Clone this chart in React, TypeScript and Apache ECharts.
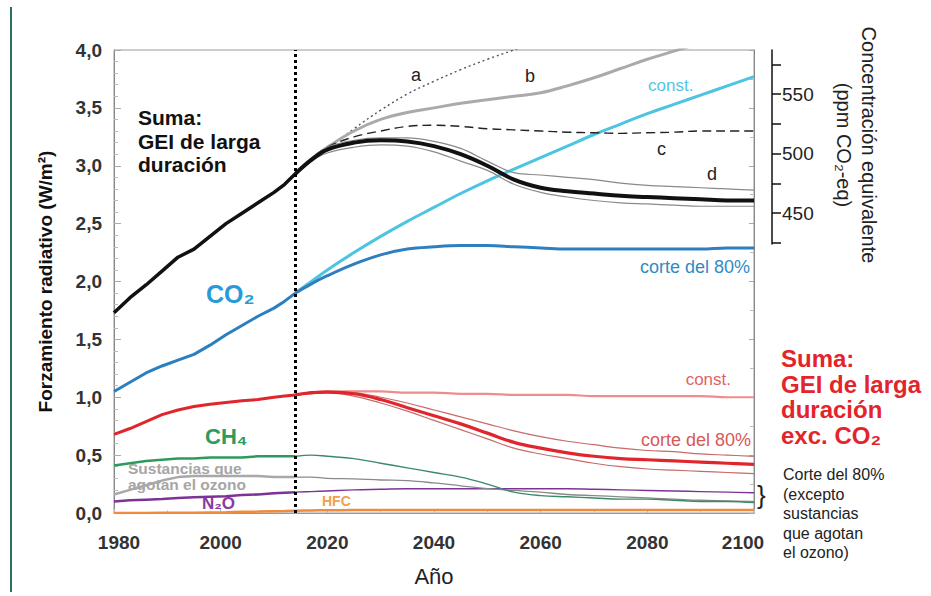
import React, { useEffect, useRef } from "react";
import * as echarts from "echarts";

// ---- data ----
const HIST_YEARS = [1980, 1983, 1986, 1989, 1992, 1995, 1998, 2001, 2004, 2007, 2010, 2012, 2014];
const FUT_YEARS = [2014, 2017, 2020, 2025, 2030, 2035, 2040, 2045, 2050, 2055, 2060, 2065, 2070, 2075, 2080, 2085, 2090, 2095, 2100];

const SUM_HIST = [1.73, 1.86, 1.97, 2.09, 2.21, 2.28, 2.39, 2.5, 2.59, 2.68, 2.77, 2.84, 2.93];
const CO2_HIST = [1.05, 1.13, 1.21, 1.27, 1.32, 1.37, 1.45, 1.54, 1.62, 1.7, 1.77, 1.83, 1.9];
const NONCO2_HIST = [0.68, 0.73, 0.79, 0.85, 0.89, 0.92, 0.94, 0.955, 0.97, 0.98, 1.0, 1.01, 1.02];
const CH4_HIST = [0.41, 0.43, 0.45, 0.46, 0.47, 0.47, 0.48, 0.48, 0.48, 0.49, 0.49, 0.49, 0.49];
const ODS_HIST = [0.16, 0.2, 0.24, 0.28, 0.31, 0.32, 0.32, 0.32, 0.32, 0.32, 0.31, 0.31, 0.31];
const N2O_HIST = [0.1, 0.11, 0.115, 0.12, 0.13, 0.135, 0.14, 0.145, 0.155, 0.16, 0.17, 0.175, 0.18];
const HFC_HIST = [0, 0, 0.001, 0.002, 0.002, 0.003, 0.005, 0.007, 0.01, 0.012, 0.015, 0.017, 0.02];

const SUM_A = [2.93, 3.04, 3.14, 3.32, 3.48, 3.62, 3.73, 3.83, 3.92, 4.0, 4.08, null, null, null, null, null, null, null, null];
const SUM_B = [2.93, 3.06, 3.16, 3.3, 3.4, 3.46, 3.5, 3.54, 3.57, 3.6, 3.63, 3.69, 3.76, 3.84, 3.92, 3.99, 4.06, null, null];
const SUM_C = [2.93, 3.06, 3.16, 3.25, 3.3, 3.34, 3.35, 3.34, 3.32, 3.31, 3.3, 3.29, 3.285, 3.28, 3.285, 3.29, 3.3, 3.3, 3.3];
const SUM_D = [2.93, 3.05, 3.14, 3.2, 3.22, 3.21, 3.17, 3.1, 3.0, 2.88, 2.81, 2.78, 2.76, 2.74, 2.73, 2.72, 2.71, 2.7, 2.7];
const SUM_D_HI = [2.93, 3.06, 3.16, 3.22, 3.24, 3.24, 3.21, 3.15, 3.04, 2.94, 2.92, 2.9, 2.88, 2.85, 2.83, 2.82, 2.81, 2.8, 2.79];
const SUM_D_LO = [2.93, 3.04, 3.11, 3.16, 3.18, 3.17, 3.12, 3.04, 2.96, 2.84, 2.77, 2.73, 2.7, 2.68, 2.67, 2.66, 2.65, 2.65, 2.65];

const CO2_CONST = [1.9, 2.0, 2.1, 2.25, 2.39, 2.52, 2.64, 2.76, 2.87, 2.97, 3.07, 3.17, 3.27, 3.36, 3.45, 3.53, 3.61, 3.69, 3.77];
const CO2_CUT = [1.9, 1.98, 2.05, 2.15, 2.23, 2.28, 2.3, 2.31, 2.31, 2.3, 2.29, 2.28, 2.28, 2.28, 2.28, 2.28, 2.28, 2.29, 2.29];

const NONCO2_CONST = [1.02, 1.04, 1.05, 1.05, 1.05, 1.04, 1.04, 1.03, 1.03, 1.02, 1.02, 1.02, 1.01, 1.01, 1.01, 1.01, 1.01, 1.0, 1.0];
const NONCO2_CUT = [1.02, 1.04, 1.045, 1.03, 0.98, 0.91, 0.84, 0.77, 0.69, 0.61, 0.56, 0.52, 0.49, 0.47, 0.46, 0.45, 0.44, 0.43, 0.42];
const NONCO2_CUT_HI = [1.02, 1.04, 1.05, 1.04, 1.0, 0.95, 0.89, 0.83, 0.77, 0.71, 0.66, 0.62, 0.59, 0.56, 0.54, 0.53, 0.51, 0.5, 0.49];
const NONCO2_CUT_LO = [1.02, 1.03, 1.04, 1.01, 0.95, 0.88, 0.8, 0.72, 0.64, 0.56, 0.51, 0.47, 0.43, 0.4, 0.38, 0.37, 0.36, 0.35, 0.34];

const CH4_CUT = [0.49, 0.5, 0.49, 0.47, 0.43, 0.39, 0.35, 0.31, 0.25, 0.18, 0.15, 0.14, 0.13, 0.12, 0.12, 0.11, 0.1, 0.1, 0.09];
const ODS_FUT = [0.31, 0.31, 0.3, 0.295, 0.285, 0.28, 0.26, 0.235, 0.21, 0.195, 0.18, 0.16, 0.15, 0.14, 0.13, 0.12, 0.11, 0.105, 0.1];
const N2O_CUT = [0.18, 0.185, 0.19, 0.2, 0.205, 0.21, 0.21, 0.21, 0.21, 0.21, 0.21, 0.21, 0.205, 0.2, 0.195, 0.19, 0.185, 0.18, 0.175];
const HFC_CUT = [0.02, 0.022, 0.024, 0.025, 0.025, 0.025, 0.025, 0.025, 0.025, 0.025, 0.025, 0.025, 0.025, 0.025, 0.025, 0.025, 0.025, 0.025, 0.025];

const PPM_TICKS = [425, 450, 475, 500, 525, 550, 575];
const PPM_LABELS = [450, 500, 550];
const SCENARIO_YEAR = 2014;

const pair = (xs: number[], ys: (number | null)[]) => xs.map((x, i) => [x, ys[i]]);

const FONT = "'Liberation Sans', Arial, sans-serif";

function line(name: string, xs: number[], ys: (number | null)[], color: string, width: number, extra: any = {}) {
  return {
    name,
    type: "line",
    data: pair(xs, ys),
    showSymbol: false,
    symbol: "none",
    clip: true,
    lineStyle: { color, width, ...(extra.lineStyle || {}) },
    smooth: extra.smooth ?? 0,
    z: extra.z ?? 2,
    ...(extra.markLine ? { markLine: extra.markLine } : {}),
  };
}

export default function App() {
  const ref = useRef<HTMLDivElement>(null);
  useEffect(() => {
    const chart = echarts.init(ref.current!, null, { renderer: "svg" });
    const S = 0.4;
    const xl = { fontSize: 19, fontWeight: "bold", color: "#333", fontFamily: FONT };
    const option: any = {
      animation: false,
      backgroundColor: "#ffffff",
      textStyle: { fontFamily: FONT },
      grid: [
        { left: 114, top: 50, width: 640, height: 463, show: true, borderColor: "#9a9a9a", borderWidth: 1 },
        { left: 700, top: 50, width: 72, height: 194, show: false },
      ],
      xAxis: [
        {
          type: "value", gridIndex: 0, min: 1980, max: 2100, interval: 20,
          name: "Año", nameLocation: "middle", nameGap: 52,
          nameTextStyle: { fontSize: 22, color: "#222", fontFamily: FONT },
          axisLine: { show: true, onZero: false, lineStyle: { color: "#999" } },
          axisTick: { show: true, inside: true, length: 4, lineStyle: { color: "#bbb" } },
          minorTick: { show: true, splitNumber: 2, length: 3, lineStyle: { color: "#ccc" } },
          splitLine: { show: false },
          axisLabel: {
            ...xl, margin: 20,
            formatter: (v: number) => (v === 1980 ? `{first|${v}}` : v === 2100 ? `{last|${v}}` : String(v)),
            rich: {
              first: { ...xl, padding: [0, 0, 0, 10] },
              last: { ...xl, padding: [0, 22, 0, 0] },
            },
          },
        },
        { type: "value", gridIndex: 1, show: false, min: 0, max: 1 },
      ],
      yAxis: [
        {
          type: "value", gridIndex: 0, min: 0, max: 4, interval: 0.5,
          name: "Forzamiento radiativo (W/m²)", nameLocation: "middle", nameGap: 59,
          nameTextStyle: { fontSize: 19, fontWeight: "bold", color: "#111", fontFamily: FONT },
          axisLine: { show: true, onZero: false, lineStyle: { color: "#888" } },
          axisTick: { show: true, inside: true, length: 7, lineStyle: { color: "#aaa" } },
          minorTick: { show: true, splitNumber: 5, length: 4, lineStyle: { color: "#bbb" } },
          splitLine: { show: false },
          axisLabel: {
            fontSize: 19, fontWeight: "bold", color: "#333", margin: 12, fontFamily: FONT,
            formatter: (v: number) => v.toFixed(1).replace(".", ","),
          },
        },
        {
          type: "value", gridIndex: 0, min: 0, max: 4, interval: 0.5, position: "right",
          axisLine: { show: true, onZero: false, lineStyle: { color: "#888" } },
          axisTick: { show: true, inside: true, length: 5, lineStyle: { color: "#aaa" } },
          minorTick: { show: true, splitNumber: 2, length: 4, lineStyle: { color: "#bbb" } },
          splitLine: { show: false },
          axisLabel: { show: false },
        },
        {
          type: "value", gridIndex: 1, min: 424, max: 587, position: "right",
          axisLine: { show: true, onZero: false, lineStyle: { color: "#111", width: 1.5 } },
          axisTick: { show: true, inside: false, length: 9, customValues: PPM_TICKS, lineStyle: { color: "#111", width: 1.5 } },
          splitLine: { show: false },
          axisLabel: { show: true, customValues: PPM_LABELS, fontSize: 19, color: "#222", margin: 10, fontFamily: FONT },
        },
      ],
      series: [
        { type: "line", xAxisIndex: 1, yAxisIndex: 2, data: [], showSymbol: false },
        line("HFC hist", HIST_YEARS, HFC_HIST, "#f08a3c", 2.5),
        line("HFC", FUT_YEARS, HFC_CUT, "#f08a3c", 2.5, { smooth: S }),
        line("N2O hist", HIST_YEARS, N2O_HIST, "#7d3396", 2.5),
        line("N2O", FUT_YEARS, N2O_CUT, "#7d3396", 1.4, { smooth: S }),
        line("ODS hist", HIST_YEARS, ODS_HIST, "#a8a8a8", 2.5),
        line("ODS", FUT_YEARS, ODS_FUT, "#8a8a8a", 1.3, { smooth: S }),
        line("CH4 hist", HIST_YEARS, CH4_HIST, "#2c9a5c", 2.5),
        line("CH4", FUT_YEARS, CH4_CUT, "#3a8a6a", 1.4, { smooth: S }),
        line("nonCO2 const", FUT_YEARS, NONCO2_CONST, "#ef8c8c", 2.2, { smooth: S }),
        line("nonCO2 hi", FUT_YEARS, NONCO2_CUT_HI, "#c86a6a", 1.2, { smooth: S }),
        line("nonCO2 lo", FUT_YEARS, NONCO2_CUT_LO, "#c86a6a", 1.2, { smooth: S }),
        line("nonCO2 hist", HIST_YEARS, NONCO2_HIST, "#e0262c", 3),
        line("nonCO2 cut", FUT_YEARS, NONCO2_CUT, "#e0262c", 3.2, { smooth: S, z: 3 }),
        line("CO2 const", FUT_YEARS, CO2_CONST, "#4cc4e2", 3, { smooth: S }),
        line("CO2 cut", FUT_YEARS, CO2_CUT, "#2f7fbf", 3, { smooth: S }),
        line("CO2 hist", HIST_YEARS, CO2_HIST, "#2a7fc0", 3),
        line("a", FUT_YEARS, SUM_A, "#555", 1.4, { smooth: S, lineStyle: { type: [2, 3] } }),
        line("b", FUT_YEARS, SUM_B, "#aaaaaa", 3, { smooth: S }),
        line("c", FUT_YEARS, SUM_C, "#222", 1.4, { smooth: S, lineStyle: { type: [9, 5] } }),
        line("d hi", FUT_YEARS, SUM_D_HI, "#8a8a8a", 1.2, { smooth: S }),
        line("d lo", FUT_YEARS, SUM_D_LO, "#8a8a8a", 1.2, { smooth: S }),
        line("d", FUT_YEARS, SUM_D, "#111", 4, { smooth: S, z: 4 }),
        line("Suma hist", HIST_YEARS, SUM_HIST, "#111", 3.5, {
          z: 4,
          markLine: {
            silent: true, symbol: "none", label: { show: false },
            lineStyle: { color: "#000", width: 3, type: [3, 3] },
            data: [{ xAxis: SCENARIO_YEAR }],
            z: 5,
          },
        }),
      ],
      graphic: [
        { type: "line", shape: { x1: 11, y1: 7, x2: 11, y2: 592 }, style: { stroke: "#2f6f62", lineWidth: 2 } },
        { type: "text", x: 138, y: 106, style: { text: "Suma:\nGEI de larga\nduración", font: `bold 21px ${FONT}`, fill: "#111", lineHeight: 23.5 } },
        { type: "text", x: 206, y: 281, style: { text: "CO₂", font: `bold 25px ${FONT}`, fill: "#2a9ad6" } },
        { type: "text", x: 205, y: 425, style: { text: "CH₄", font: `bold 22px ${FONT}`, fill: "#2c9b5b" } },
        { type: "text", x: 128, y: 460, style: { text: "Sustancias que\nagotan el ozono", font: `bold 15.5px ${FONT}`, fill: "#a6a6a6", lineHeight: 16.5 } },
        { type: "text", x: 202, y: 495, style: { text: "N₂O", font: `bold 17px ${FONT}`, fill: "#8a3aa0" } },
        { type: "text", x: 322, y: 494, style: { text: "HFC", font: `bold 14px ${FONT}`, fill: "#f0a050" } },
        { type: "text", x: 411, y: 66, style: { text: "a", font: `18px ${FONT}`, fill: "#222" } },
        { type: "text", x: 525, y: 67, style: { text: "b", font: `18px ${FONT}`, fill: "#222" } },
        { type: "text", x: 657, y: 140, style: { text: "c", font: `18px ${FONT}`, fill: "#222" } },
        { type: "text", x: 707, y: 165, style: { text: "d", font: `18px ${FONT}`, fill: "#222" } },
        { type: "text", x: 648, y: 77, style: { text: "const.", font: `17px ${FONT}`, fill: "#55c5e5" } },
        { type: "text", x: 750, y: 258, style: { text: "corte del 80%", font: `18px ${FONT}`, fill: "#2f8bc5", textAlign: "right" } },
        { type: "text", x: 731, y: 371, style: { text: "const.", font: `17px ${FONT}`, fill: "#e06464", textAlign: "right" } },
        { type: "text", x: 751, y: 431, style: { text: "corte del 80%", font: `18px ${FONT}`, fill: "#d85858", textAlign: "right" } },
        { type: "text", x: 781, y: 346, style: { text: "Suma:\nGEI de larga\nduración\nexc. CO₂", font: `bold 24px ${FONT}`, fill: "#e3242b", lineHeight: 25.5 } },
        { type: "text", x: 783, y: 465, style: { text: "Corte del 80%\n(excepto\nsustancias\nque agotan\nel ozono)", font: `16px ${FONT}`, fill: "#222", lineHeight: 19.5 } },
        { type: "text", x: 757, y: 482, style: { text: "}", font: `26px ${FONT}`, fill: "#222" } },
        {
          type: "text", x: 856, y: 145, rotation: -Math.PI / 2,
          style: { text: "Concentración equivalente\n(ppm CO₂-eq)", font: `20px ${FONT}`, fill: "#222", lineHeight: 25, textAlign: "center", textVerticalAlign: "middle" },
        },
      ],
    };
    chart.setOption(option);
    return () => chart.dispose();
  }, []);
  return <div ref={ref} style={{ position: "absolute", left: 0, top: 0, width: 931, height: 596, background: "#fff" }} />;
}
